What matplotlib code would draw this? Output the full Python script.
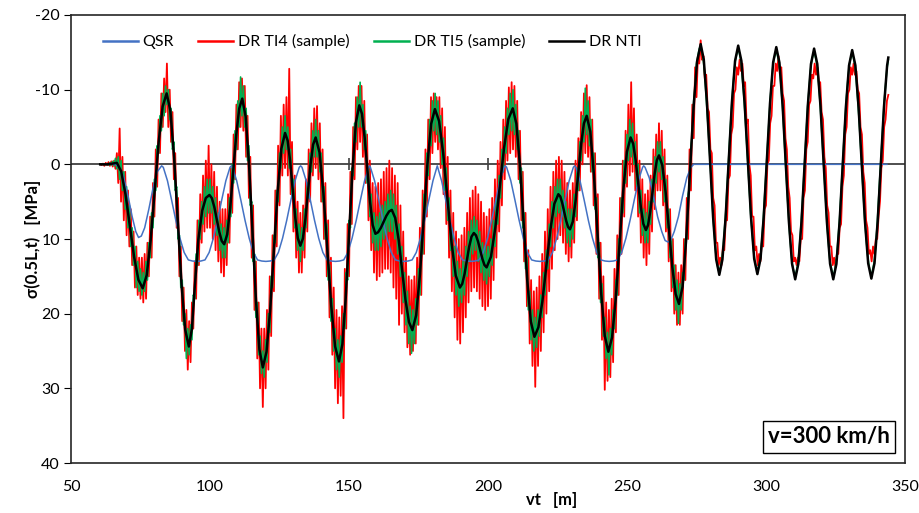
import numpy as np
import matplotlib.pyplot as plt

plt.rcParams['font.family'] = ['Lato', 'DejaVu Sans']
plt.rcParams['axes.unicode_minus'] = False

# sampled responses (TI4 / TI5) on a 0.5 m grid starting at vt = 60.5 m
vt_start = 60.5
vt_step = 0.5

# DR TI4 (sample), one line = 5 m
ti4 = [
    0, 0.1, -0.1, 0.2, -0.2, 0.1, -0.3, 0.2, -0.4, 0.3,
    -0.5, 0.6, -1.5, 2.5, -4.8, 5.0, -1.0, 7.5, 1.0, 9.5,
    3.5, 11.0, 6.0, 13.5, 9.0, 16.5, 11.0, 17.5, 12.5, 18.0,
    12.5, 18.5, 12.0, 18.0, 10.5, 15.0, 7.0, 12.5, 2.5, 7.0,
    -2.0, 3.0, -6.0, -1.5, -9.5, -5.0, -11.5, -7.0, -13.5, -5.0,
    -10.0, -3.0, -7.0, 2.0, -1.5, 8.5, 4.5, 15.0, 11.0, 21.0,
    16.5, 25.0, 19.5, 27.5, 21.0, 26.5, 18.5, 22.0, 13.0, 18.0,
    7.5, 13.5, 4.0, 10.5, 1.5, 9.0, -0.5, 8.5, -2.5, 8.5,
    0.0, 10.0, 1.0, 11.5, 3.0, 13.0, 5.0, 14.5, 6.0, 15.0,
    6.0, 13.5, 4.0, 10.5, 0.5, 6.5, -4.0, 2.0, -8.0, -2.0,
    -11.0, -5.0, -11.5, -4.5, -10.5, -1.0, -6.5, 4.5, -1.0, 12.5,
    5.5, 19.5, 13.0, 26.0, 18.5, 30.0, 22.0, 32.5, 22.0, 30.0,
    19.5, 27.5, 15.0, 23.0, 9.5, 17.0, 3.5, 11.0, -2.5, 5.5,
    -6.5, 1.5, -8.0, 0.5, -9.0, 1.5, -12.8, 4.0, -3.0, 9.0,
    1.5, 12.5, 5.0, 14.5, 6.5, 14.5, 5.5, 12.5, 2.0, 9.0,
    -2.0, 5.0, -5.5, 1.5, -7.5, 0.5, -7.8, 2.0, -5.5, 5.0,
    -2.0, 10.0, 2.5, 15.0, 7.5, 20.5, 12.5, 25.5, 16.5, 30.0,
    19.5, 32.0, 20.5, 31.0, 19.0, 34.0, 14.0, 22.0, 8.0, 15.0,
    1.0, 8.0, -5.0, 2.0, -9.0, -2.0, -10.5, -3.0, -10.5, -1.0,
    -8.5, 2.5, -4.0, 7.5, -0.5, 11.5, 2.5, 14.5, 3.0, 15.5,
    2.5, 15.0, 2.0, 14.5, 1.0, 14.0, 0.5, 14.0, -0.5, 14.5,
    0.5, 16.5, 1.5, 18.0, 2.5, 21.5, 5.5, 20.0, 9.0, 22.5,
    12.5, 24.5, 15.0, 25.5, 15.5, 25.0, 15.0, 24.0, 12.5, 21.5,
    8.5, 17.5, 3.5, 12.0, -2.0, 7.0, -6.0, 2.0, -9.0, -1.5,
    -9.5, -3.0, -9.0, -2.0, -9.0, 0.5, -7.5, 4.0, -5.0, 8.0,
    -1.0, 12.5, 3.5, 17.0, 6.5, 20.5, 9.0, 23.5, 10.0, 24.0,
    9.5, 22.5, 8.5, 20.5, 6.5, 18.5, 4.5, 17.0, 3.5, 16.5,
    3.0, 17.0, 4.0, 18.0, 5.0, 19.0, 6.5, 19.5, 7.0, 19.0,
    6.0, 18.0, 4.5, 15.5, 2.0, 12.5, -0.5, 9.0, -3.0, 5.5,
    -6.0, 2.0, -8.5, -0.5, -10.3, -1.5, -11.0, -2.0, -10.5, -1.0,
    -8.5, 2.0, -4.5, 7.5, 1.0, 13.0, 6.5, 19.0, 11.5, 24.0,
    15.5, 27.0, 17.0, 29.8, 16.5, 27.0, 15.0, 25.0, 12.0, 22.5,
    9.0, 20.0, 6.0, 17.0, 3.0, 14.0, 1.0, 11.5, -0.5, 10.0,
    -1.0, 9.5, -0.5, 10.5, 1.0, 12.0, 2.5, 13.0, 3.5, 12.5,
    2.5, 10.5, -0.5, 7.5, -3.5, 3.5, -7.0, 0.0, -9.5, -1.5,
    -10.6, -1.0, -9.0, 1.0, -6.0, 5.5, -1.5, 12.0, 4.0, 18.0,
    10.5, 23.5, 15.0, 30.2, 18.5, 29.0, 19.5, 28.5, 18.0, 26.5,
    14.0, 22.5, 9.5, 17.5, 4.5, 12.0, -0.5, 7.0, -4.5, 3.0,
    -8.0, 1.5, -11.0, 1.0, -7.5, 3.5, -4.0, 7.0, -0.5, 10.5,
    2.0, 12.5, 4.0, 13.5, 3.5, 12.0, 1.5, 9.0, -2.0, 6.0,
    -4.0, 3.5, -5.5, 3.5, -4.5, 5.5, -2.0, 9.0, 1.5, 13.0,
    6.0, 17.0, 10.0, 20.0, 13.5, 21.5, 14.5, 21.5, 13.5, 20.0,
    10.0, 15.5, 4.5, 10.0, -2.0, 3.5, -8.0, -3.5, -13.0, -9.0,
    -14.5, -13.5, -16.6, -14.0, -14.5, -11.5, -12.0, -7.5, -7.0, -2.0,
    -1.5, 4.5, 5.5, 10.5, 10.5, 13.5, 12.5, 13.5, 11.0, 11.5,
    7.5, 7.5, 2.0, 1.5, -4.0, -5.0, -9.5, -10.0, -13.0, -12.0,
    -14.0, -12.5, -13.5, -10.5, -11.0, -5.5, -6.0, 0.0, 1.5, 7.0,
    7.0, 11.5, 11.0, 13.5, 12.0, 13.0, 10.5, 11.0, 6.0, 5.5,
    0.0, -0.5, -5.5, -6.5, -10.5, -10.5, -13.5, -12.5, -14.5, -12.0,
    -13.0, -9.5, -8.5, -3.5, -2.0, 3.0, 4.5, 9.0, 9.5, 13.0,
    12.5, 13.5, 12.5, 13.0, 10.0, 10.0, 4.5, 3.5, -2.0, -3.0,
    -8.0, -8.5, -12.0, -11.5, -13.5, -12.0, -13.0, -11.0, -11.0, -7.0,
    -6.0, -1.0, 0.5, 5.5, 6.5, 11.0, 11.0, 13.5, 12.5, 13.8,
    12.0, 12.0, 8.5, 8.0, 3.0, 1.5, -4.0, -5.0, -9.5, -10.0,
    -13.0, -12.0, -13.5, -12.0, -12.5, -10.0, -9.5, -5.0, -4.0, 1.0,
    2.5, 7.5, 8.5, 12.0, 11.5, 13.0, 11.0, 12.0, 10.0, 10.0,
    7.0, 5.0, 0.5, -0.5, -5.0, -6.0, -8.5, -9.3,
]

# DR TI5 (sample), same grid
ti5 = [
    0, 0, 0, 0, 0, -0.1, 0.1, -0.2, 0.1, -0.4,
    0.2, -0.8, 0.6, -1.0, 2.0, -0.5, 3.5, 1.0, 6.0, 3.0,
    8.5, 5.5, 11.0, 8.5, 13.5, 11.0, 16.5, 13.0, 17.0, 14.0,
    17.5, 14.5, 17.0, 13.0, 15.5, 10.5, 12.5, 6.5, 8.5, 2.0,
    3.5, -2.5, -1.5, -6.5, -4.5, -9.5, -6.5, -10.5, -8.0, -10.0,
    -6.0, -7.5, -2.0, -3.0, 3.5, 3.0, 10.0, 9.5, 16.5, 15.5,
    21.5, 20.0, 26.0, 22.0, 25.5, 21.5, 23.5, 17.5, 18.0, 12.0,
    13.5, 7.5, 10.0, 5.0, 8.0, 3.0, 7.0, 2.0, 6.5, 2.0,
    6.5, 3.0, 8.0, 4.5, 9.5, 6.5, 11.5, 8.0, 12.5, 8.5,
    12.5, 7.5, 10.5, 4.5, 7.0, 0.0, 2.5, -4.5, -2.0, -8.5,
    -5.0, -11.7, -6.5, -10.5, -5.0, -7.5, -0.5, -2.5, 5.5, 5.0,
    13.0, 12.0, 20.5, 18.5, 25.5, 23.0, 28.0, 25.0, 28.5, 23.5,
    26.5, 20.0, 22.5, 15.0, 16.5, 9.5, 10.5, 3.5, 5.0, -1.5,
    0.5, -5.0, -1.5, -6.5, -2.0, -5.0, 0.5, -2.0, 4.5, 2.0,
    8.5, 6.0, 11.5, 8.0, 13.0, 8.5, 11.5, 6.0, 8.5, 2.5,
    4.5, -1.5, 1.0, -4.5, -1.0, -6.0, -1.0, -4.5, 1.0, -1.5,
    5.0, 3.0, 10.0, 8.0, 15.5, 13.5, 21.0, 18.0, 25.0, 22.0,
    27.5, 23.5, 28.5, 23.0, 26.5, 20.0, 22.0, 14.5, 15.5, 7.5,
    8.5, 0.5, 1.5, -5.5, -3.0, -9.0, -5.0, -11.0, -5.0, -8.0,
    -2.0, -4.5, 2.5, 0.5, 7.0, 4.0, 10.5, 6.5, 11.5, 7.0,
    11.5, 6.5, 11.0, 5.5, 10.0, 5.0, 9.5, 4.0, 9.0, 3.5,
    9.0, 4.0, 10.0, 5.5, 12.0, 8.0, 15.0, 11.0, 18.5, 14.5,
    21.5, 17.0, 24.0, 19.0, 25.3, 19.5, 24.0, 18.0, 21.5, 14.0,
    17.5, 9.5, 12.0, 4.0, 6.5, -1.5, 1.5, -6.0, -2.5, -8.5,
    -4.5, -9.5, -4.0, -8.5, -3.0, -6.5, 0.0, -3.5, 3.5, 0.5,
    7.5, 4.5, 11.5, 8.5, 15.0, 11.0, 17.5, 13.0, 19.0, 14.0,
    18.5, 13.0, 17.5, 11.0, 15.0, 9.0, 13.0, 7.5, 12.0, 7.0,
    11.5, 7.5, 13.0, 9.0, 14.5, 10.5, 15.5, 11.0, 16.0, 11.0,
    15.0, 10.0, 13.5, 7.5, 11.0, 4.5, 8.0, 1.5, 4.5, -2.0,
    1.0, -5.0, -1.5, -7.5, -4.0, -9.5, -4.5, -10.0, -4.0, -8.0,
    -2.0, -4.5, 2.5, 0.5, 8.5, 6.5, 14.0, 12.5, 19.5, 17.0,
    23.5, 19.5, 25.0, 20.5, 24.5, 19.5, 23.0, 17.5, 20.5, 14.5,
    17.5, 11.5, 14.0, 8.0, 11.0, 5.0, 8.5, 3.0, 7.0, 2.0,
    6.5, 2.0, 7.0, 3.5, 8.5, 5.0, 10.5, 6.0, 11.0, 6.0,
    10.0, 4.0, 7.0, 0.5, 3.5, -3.0, -0.5, -6.5, -3.0, -10.2,
    -4.0, -8.5, -2.5, -6.0, 1.0, -1.5, 6.0, 4.5, 12.5, 10.5,
    18.5, 16.0, 23.0, 20.5, 26.0, 22.5, 28.2, 22.0, 25.5, 19.5,
    22.0, 15.5, 17.5, 10.0, 12.0, 4.5, 6.5, -0.5, 2.5, -4.0,
    -0.5, -6.0, -1.0, -5.5, 0.0, -3.0, 3.0, 0.0, 6.5, 3.5,
    9.5, 6.0, 10.5, 6.5, 10.5, 5.0, 8.0, 2.0, 5.0, -1.0,
    2.5, -3.0, 1.0, -3.0, 2.0, -1.0, 5.0, 2.0, 8.5, 6.0,
    12.5, 10.0, 16.5, 13.5, 19.5, 15.5, 21.3, 16.0, 19.5, 14.5,
    15.5, 10.0, 10.0, 4.0, 3.0, -2.5, -4.0, -8.5, -10.5, -13.5,
    -14.5, -15.5, -15.8, -15.0, -13.8, -11.8, -9.0, -6.0, -2.8, 0.2,
    4.0, 7.3, 9.8, 12.2, 13.5, 14.3, 14.0, 13.0, 11.5, 9.0,
    6.5, 3.0, -0.4, -3.8, -7.0, -9.8, -12.2, -14.0, -14.8, -15.5,
    -14.8, -13.8, -11.6, -9.3, -6.5, -3.2, 0.1, 3.4, 6.7, 9.2,
    11.5, 13.0, 13.9, 14.3, 13.4, 12.4, 10.1, 7.5, 4.3, 1.2,
    -2.2, -5.5, -8.6, -11.0, -13.2, -14.3, -15.0, -14.8, -14.0, -12.5,
    -10.0, -7.4, -3.8, -0.4, 3.0, 6.3, 9.2, 11.6, 13.5, 14.4,
    15.0, 14.2, 13.2, 11.2, 8.6, 5.7, 2.3, -1.1, -4.4, -7.8,
    -10.3, -12.6, -14.0, -14.8, -14.8, -14.0, -12.9, -10.5, -8.0, -4.7,
    -1.3, 2.0, 5.3, 8.3, 10.8, 13.0, 13.9, 14.7, 14.6, 13.6,
    12.1, 9.6, 7.1, 3.7, 0.3, -3.1, -6.4, -9.2, -11.6, -13.4,
    -14.3, -15.0, -14.2, -13.2, -11.2, -8.6, -5.9, -2.6, 0.7, 4.0,
    7.3, 9.8, 12.0, 13.5, 14.4, 14.8, 13.9, 12.9, 10.6, 8.1,
    4.7, 1.3, -1.7, -5.0, -8.3, -10.5, -12.8, -14.0,
]

# DR NTI
nti_vt = [
    60.5, 63, 65, 66.5, 68.05, 69.6, 71.15, 72.7, 74.25, 75.8,
    77.23, 78.67, 80.1, 81.53, 82.97, 84.4, 85.73, 87.07, 88.4, 89.73,
    91.07, 92.4, 93.5, 94.5, 95.8, 97.2, 98.5, 99.8, 100.68, 101.57,
    102.45, 103.33, 104.22, 105.1, 106.18, 107.27, 108.35, 109.43, 110.52, 111.6,
    112.83, 114.07, 115.3, 116.53, 117.77, 119.0, 120.33, 121.67, 123.0, 124.33,
    125.67, 127.0, 127.92, 128.83, 129.75, 130.67, 131.58, 132.5, 133.42, 134.33,
    135.25, 136.17, 137.08, 138.0, 139.4, 140.8, 142.2, 143.6, 145.0, 146.4,
    147.62, 148.83, 150.05, 151.27, 152.48, 153.7, 154.67, 155.63, 156.6, 157.57,
    158.53, 159.5, 160.48, 161.47, 162.45, 163.43, 164.42, 165.4, 166.63, 167.87,
    169.1, 170.33, 171.57, 172.8, 174.15, 175.5, 176.85, 178.2, 179.55, 180.9,
    182.4, 183.9, 185.4, 186.9, 188.4, 189.9, 190.73, 191.57, 192.4, 193.23,
    194.07, 194.9, 195.67, 196.43, 197.2, 197.97, 198.73, 199.5, 201.07, 202.63,
    204.2, 205.77, 207.33, 208.9, 210.2, 211.5, 212.8, 214.1, 215.4, 216.7,
    218.13, 219.57, 221.0, 222.43, 223.87, 225.3, 226.0, 226.7, 227.4, 228.1,
    228.8, 229.5, 230.5, 231.5, 232.5, 233.5, 234.5, 235.5, 236.8, 238.1,
    239.4, 240.7, 242.0, 243.3, 244.63, 245.97, 247.3, 248.63, 249.97, 251.3,
    252.22, 253.13, 254.05, 254.97, 255.88, 256.8, 257.58, 258.37, 259.15, 259.93,
    260.72, 261.5, 262.7, 263.9, 265.1, 266.3, 267.5, 268.7, 270.0, 271.3,
    272.6, 273.9, 275.2, 276.5, 277.62, 278.73, 279.85, 280.97, 282.08, 283.2,
    284.33, 285.47, 286.6, 287.73, 288.87, 290.0, 291.15, 292.3, 293.45, 294.6,
    295.75, 296.9, 298.03, 299.17, 300.3, 301.43, 302.57, 303.7, 304.83, 305.97,
    307.1, 308.23, 309.37, 310.5, 311.63, 312.77, 313.9, 315.03, 316.17, 317.3,
    318.45, 319.6, 320.75, 321.9, 323.05, 324.2, 325.33, 326.47, 327.6, 328.73,
    329.87, 331.0, 332.15, 333.3, 334.45, 335.6, 336.75, 337.9, 339.03, 340.17,
    341.3, 342.43, 343.57, 344.0,
]
nti = [
    0, 0, -0.1, -0.2, 0.93, 4.0, 8.2, 12.4, 15.47, 16.6,
    14.85, 10.08, 3.55, -2.98, -7.75, -9.5, -7.23, -1.03, 7.45, 15.93,
    22.13, 24.4, 22.0, 16.5, 10.1, 6.2, 4.5, 4.1, 4.54, 5.75,
    7.4, 9.05, 10.26, 10.7, 9.39, 5.83, 0.95, -3.93, -7.49, -8.8,
    -6.39, 0.2, 9.2, 18.2, 24.79, 27.2, 25.1, 19.35, 11.5, 3.65,
    -2.1, -4.2, -3.19, -0.43, 3.35, 7.13, 9.89, 10.9, 9.93, 7.28,
    3.65, 0.02, -2.63, -3.6, -1.59, 3.9, 11.4, 18.9, 24.39, 26.4,
    24.1, 17.83, 9.25, 0.67, -5.6, -7.9, -6.75, -3.6, 0.7, 5.0,
    8.15, 9.3, 9.09, 8.5, 7.7, 6.9, 6.31, 6.1, 7.18, 10.12,
    14.15, 18.18, 21.12, 22.2, 20.22, 14.8, 7.4, 0.0, -5.42, -7.4,
    -5.8, -1.43, 4.55, 10.53, 14.9, 16.5, 16.01, 14.68, 12.85, 11.02,
    9.69, 9.2, 9.51, 10.35, 11.5, 12.65, 13.49, 13.8, 12.37, 8.48,
    3.15, -2.18, -6.07, -7.5, -5.45, 0.15, 7.8, 15.45, 21.05, 23.1,
    21.82, 18.33, 13.55, 8.77, 5.28, 4.0, 4.31, 5.17, 6.35, 7.53,
    8.39, 8.7, 7.68, 4.9, 1.1, -2.7, -5.48, -6.5, -4.38, 1.4,
    9.3, 17.2, 22.98, 25.1, 23.18, 17.93, 10.75, 3.57, -1.68, -3.6,
    -2.77, -0.5, 2.6, 5.7, 7.97, 8.8, 8.13, 6.3, 3.8, 1.3,
    -0.53, -1.2, 0.13, 3.77, 8.75, 13.73, 17.37, 18.7, 16.37, 10.0,
    1.3, -7.4, -13.77, -16.1, -14.03, -8.38, -0.65, 7.08, 12.73, 14.8,
    12.74, 7.13, -0.55, -8.23, -13.84, -15.9, -13.85, -8.25, -0.6, 7.05,
    12.65, 14.7, 12.66, 7.1, -0.5, -8.1, -13.66, -15.7, -13.62, -7.93,
    -0.15, 7.63, 13.32, 15.4, 13.33, 7.68, -0.05, -7.78, -13.43, -15.5,
    -13.43, -7.78, -0.05, 7.68, 13.33, 15.4, 13.34, 7.73, 0.05, -7.63,
    -13.24, -15.3, -13.25, -7.65, 0.0, 7.65, 13.25, 15.3, 13.25, 7.65,
    0.0, -7.65, -13.25, -14.3,
]

# QSR
qsr_vt = [
    60.5, 66, 67.5, 69, 70.5, 72, 73.3, 74.3, 75.3, 76.5, 78, 79.5, 81, 82.6,
    83.2, 84.7, 86.2, 87.7, 89.2, 90.7, 92.2, 93.7, 95.2, 96.7, 98.2, 99.7, 101.2, 102.7, 104.2, 105.7, 107.2, 107.7,
    108.1, 109.6, 111.1, 112.6, 114.1, 115.6, 117.1, 118.6, 120.1, 121.6, 123.1, 124.6, 126.1, 127.6, 129.1, 130.6, 132.1, 132.6,
    133.1, 134.6, 136.1, 137.6, 139.1, 140.6, 142.1, 143.6, 145.1, 146.6, 148.1, 149.6, 151.1, 152.6, 154.1, 155.6, 157.1, 157.4,
    157.7, 159.2, 160.7, 162.2, 163.7, 165.2, 166.7, 168.2, 169.7, 171.2, 172.7, 174.2, 175.7, 177.2, 178.7, 180.2, 181.75,
    183.3, 184.8, 186.3, 187.8, 189.3, 190.8, 192.3, 193.8, 195.3, 196.8, 198.3, 199.8, 201.3, 202.8, 204.3, 205.8, 206.25,
    206.7, 208.2, 209.7, 211.2, 212.7, 214.2, 215.7, 217.2, 218.7, 220.2, 221.7, 223.2, 224.7, 226.2, 227.7, 229.2, 230.7, 231.15,
    231.6, 233.1, 234.6, 236.1, 237.6, 239.1, 240.6, 242.1, 243.6, 245.1, 246.6, 248.1, 249.6, 251.1, 252.6, 254.1, 255.6, 256.0,
    256.5, 258, 259.5, 261, 262.5, 263.7, 264.7, 265.7, 267, 268.5, 270, 271.5, 273, 274, 343.5,
]
qsr = [
    0, 0, 0.4, 1.8, 4.2, 7.0, 9.0, 9.8, 9.6, 8.5, 6.0, 3.2, 1.0, 0.2,
    0.4, 2.2, 4.8, 7.5, 9.9, 11.8, 12.8, 12.95, 13.0, 12.95, 12.8, 11.8, 9.9, 7.5, 4.8, 2.2, 0.4, 0.2,
    0.4, 2.2, 4.8, 7.5, 9.9, 11.8, 12.8, 12.95, 13.0, 12.95, 12.8, 11.8, 9.9, 7.5, 4.8, 2.2, 0.4, 0.2,
    0.4, 2.2, 4.8, 7.5, 9.9, 11.8, 12.8, 12.95, 13.0, 12.95, 12.8, 11.8, 9.9, 7.5, 4.8, 2.2, 0.4, 0.2,
    0.4, 2.2, 4.8, 7.5, 9.9, 11.8, 12.8, 12.95, 13.0, 12.95, 12.8, 11.8, 9.9, 7.5, 4.8, 2.2, 0.2,
    2.2, 4.8, 7.5, 9.9, 11.8, 12.8, 12.95, 13.0, 12.95, 12.8, 11.8, 9.9, 7.5, 4.8, 2.2, 0.4, 0.2,
    0.4, 2.2, 4.8, 7.5, 9.9, 11.8, 12.8, 12.95, 13.0, 12.95, 12.8, 11.8, 9.9, 7.5, 4.8, 2.2, 0.4, 0.2,
    0.4, 2.2, 4.8, 7.5, 9.9, 11.8, 12.8, 12.95, 13.0, 12.95, 12.8, 11.8, 9.9, 7.5, 4.8, 2.2, 0.4, 0.2,
    0.4, 1.8, 4.2, 7.0, 9.0, 10.2, 10.4, 10.2, 9.0, 7.0, 4.2, 1.8, 0.4, 0.0, 0.0,
]

span_marks = [150, 200]

vt = vt_start + vt_step * np.arange(len(ti4))
vt5 = vt_start + vt_step * np.arange(len(ti5))

fig = plt.figure(figsize=(9.2, 5.13), dpi=100)
ax = fig.add_axes([71 / 920, 50 / 513, 834 / 920, 448 / 513])

ax.axhline(0, color='#404040', lw=1.3, zorder=1)
l_ti4, = ax.plot(vt, ti4, color='#FF0000', lw=1.3, zorder=2)
l_ti5, = ax.plot(vt5, ti5, color='#00B050', lw=1.2, zorder=3)
l_qsr, = ax.plot(qsr_vt, qsr, color='#4472C4', lw=1.1, zorder=4)
l_nti, = ax.plot(nti_vt, nti, color='black', lw=1.8, zorder=5)
ax.plot(span_marks, [0] * len(span_marks), ls='none', marker='|', ms=8,
        mew=1.2, color='#404040', zorder=1)

ax.set_xlim(50, 350)
ax.set_ylim(40, -20)
ax.set_xticks(range(50, 351, 50))
ax.set_yticks(range(-20, 41, 10))
ax.tick_params(axis='x', length=0, pad=12, labelsize=11.5)
ax.tick_params(axis='y', length=5, direction='out', labelsize=11.5, pad=3)
for sp in ax.spines.values():
    sp.set_linewidth(1.2)
    sp.set_color('#262626')

leg = ax.legend([l_qsr, l_ti4, l_ti5, l_nti],
                ['QSR', 'DR TI4 (sample)', 'DR TI5 (sample)', 'DR NTI'],
                loc='center left', bbox_to_anchor=(0.038, 0.94), ncol=4,
                frameon=False, fontsize=11.5, handlelength=2.2,
                handletextpad=0.3, columnspacing=1.5, borderpad=0,
                borderaxespad=0)
for h in leg.legend_handles:
    h.set_linewidth(1.8)

fig.text(829 / 920, 1 - 437 / 513, 'v=300 km/h', ha='center', va='center',
         fontsize=16, fontweight='bold',
         bbox=dict(boxstyle='square,pad=0.25', fc='white', ec='black', lw=1))
fig.text(33 / 920, 1 - 239 / 513, 'σ(0.5L,t)   [MPa]', rotation=90,
         ha='center', va='center', fontsize=12, fontweight='bold')
fig.text(552 / 920, 1 - 500 / 513, 'vt   [m]', ha='center', va='center',
         fontsize=12, fontweight='bold')

fig.savefig('out.png', dpi=100)
